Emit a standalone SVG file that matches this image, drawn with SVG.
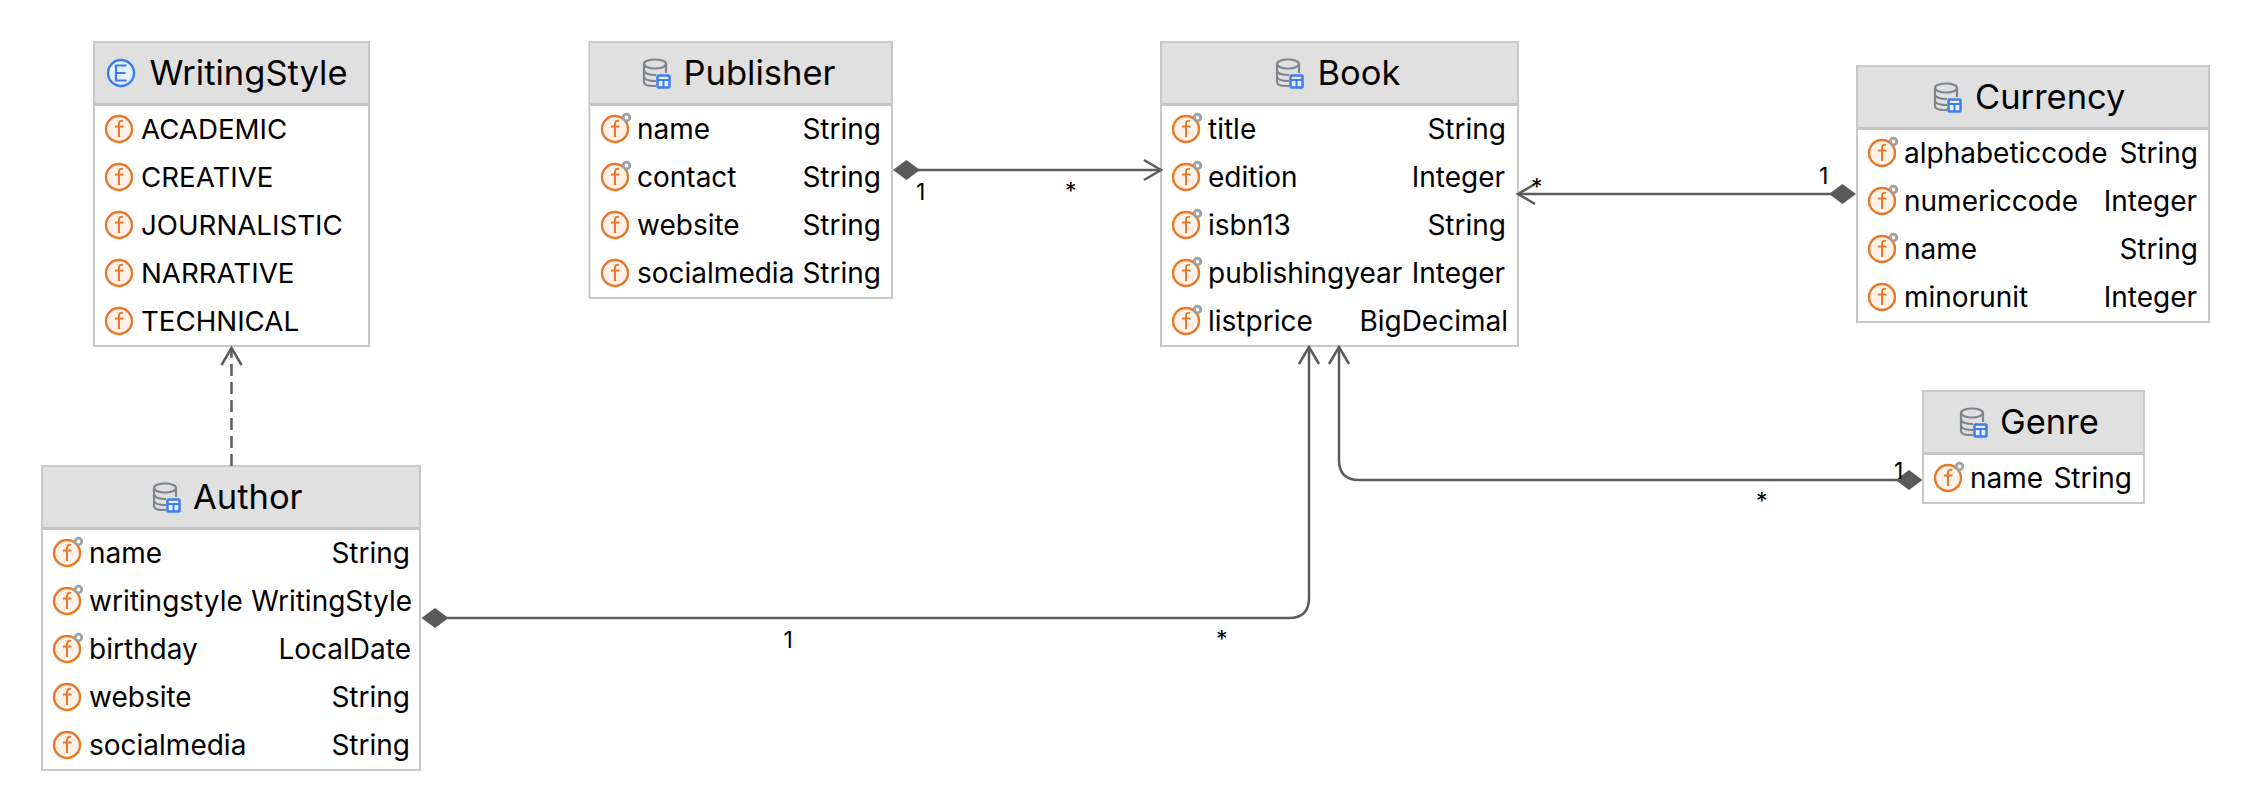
<svg xmlns="http://www.w3.org/2000/svg" xmlns:xlink="http://www.w3.org/1999/xlink" width="2252" height="812" viewBox="0 0 2252 812">
<style>
text{font-family:Inter,"Liberation Sans",sans-serif;fill:#000}
.title{font-size:34.500px}
.row{font-size:28px}
.caps{font-size:27.700px}
.type{font-size:28px;text-anchor:end}
.lbl{font-size:23px}
.box{fill:#fff;stroke:#c8c8c8;stroke-width:2}
.head{fill:#e0e0e0}
.sep{stroke:#c4c4c4;stroke-width:3;fill:none}
.conn{fill:none;stroke:#5c5c5c;stroke-width:2.500}
.dash{stroke-dasharray:12 6}
</style>
<defs>
<marker id="open" markerUnits="userSpaceOnUse" markerWidth="24" markerHeight="26" refX="20" refY="12" orient="auto"><path d="M3 2 L20 12 L3 22" fill="none" stroke="#5c5c5c" stroke-width="2.500"/></marker>
<symbol id="diamond" overflow="visible"><path d="M-13.500 0 L0 -10 L13.500 0 L0 10Z" fill="#5a5a5a"/></symbol>
<symbol id="f" overflow="visible"><circle r="13" fill="#fdf1e8" stroke="#e8782a" stroke-width="2.400"/><path d="M4 -8 Q0 -9 0 -5 V8 M-4 -2.500 H4.500" fill="none" stroke="#e8782a" stroke-width="2"/></symbol>
<symbol id="fk" overflow="visible"><use xlink:href="#f" href="#f"/><circle cx="11.500" cy="-11.500" r="3.300" fill="#fff" stroke="#9aa1a8" stroke-width="2.800"/></symbol>
<symbol id="e" overflow="visible"><circle r="13" fill="#e6effc" stroke="#3f7cf0" stroke-width="2.400"/><path d="M5.500 -7.500 H-5 V7.500 H5.500 M-5 0 H4.500" fill="none" stroke="#3f7cf0" stroke-width="2.200"/></symbol>
<symbol id="db" overflow="visible"><g fill="none" stroke="#7e838c" stroke-width="2.200"><ellipse cx="12" cy="5" rx="11" ry="4.500"/><path d="M1 5 V23 Q1 27 10 27 H13 M1 11.500 Q2 16 13 16 M1 18 Q2 22 13 22 M23 5 V14"/></g><rect x="14.500" y="16.500" width="12" height="12" rx="1" fill="#e6effc" stroke="#3f7cf0" stroke-width="2.500"/><path d="M14.500 21 H26.500 M20.500 21 V28" stroke="#3f7cf0" stroke-width="2" fill="none"/></symbol>
</defs>
<rect width="2252" height="812" fill="#fff"/>

<g id="WritingStyle">
<rect class="box" x="94" y="42" width="275" height="304"/><rect class="head" x="95" y="43" width="273" height="60"/><path class="sep" d="M95 104.500H368"/>
<use href="#e" x="121" y="73"/><text class="title" x="149.500" y="85">WritingStyle</text>
<use href="#f" x="119" y="129"/><text class="caps" x="141" y="139">ACADEMIC</text>
<use href="#f" x="119" y="177"/><text class="caps" x="141" y="187">CREATIVE</text>
<use href="#f" x="119" y="225"/><text class="caps" x="141" y="235">JOURNALISTIC</text>
<use href="#f" x="119" y="273"/><text class="caps" x="141" y="283">NARRATIVE</text>
<use href="#f" x="119" y="321"/><text class="caps" x="141" y="331">TECHNICAL</text>
</g>

<g id="Publisher">
<rect class="box" x="589.500" y="42" width="302.500" height="256"/><rect class="head" x="590.500" y="43" width="300.500" height="60"/><path class="sep" d="M590.500 104.500H891"/>
<use href="#db" x="643" y="59"/><text class="title" x="683.500" y="85">Publisher</text>
<use href="#fk" x="615" y="129"/><text class="row" x="637" y="139">name</text><text class="type" x="881" y="139">String</text>
<use href="#fk" x="615" y="177"/><text class="row" x="637" y="187">contact</text><text class="type" x="881" y="187">String</text>
<use href="#f" x="615" y="225"/><text class="row" x="637" y="235">website</text><text class="type" x="881" y="235">String</text>
<use href="#f" x="615" y="273"/><text class="row" x="637" y="283">socialmedia</text><text class="type" x="881" y="283">String</text>
</g>

<g id="Book">
<rect class="box" x="1161" y="42" width="357" height="304"/><rect class="head" x="1162" y="43" width="355" height="60"/><path class="sep" d="M1162 104.500H1517"/>
<use href="#db" x="1276" y="59"/><text class="title" x="1317.500" y="85">Book</text>
<use href="#fk" x="1186" y="129"/><text class="row" x="1208" y="139">title</text><text class="type" x="1506" y="139">String</text>
<use href="#fk" x="1186" y="177"/><text class="row" x="1208" y="187">edition</text><text class="type" x="1505" y="187">Integer</text>
<use href="#fk" x="1186" y="225"/><text class="row" x="1208" y="235">isbn13</text><text class="type" x="1506" y="235">String</text>
<use href="#fk" x="1186" y="273"/><text class="row" x="1208" y="283">publishingyear</text><text class="type" x="1505" y="283">Integer</text>
<use href="#fk" x="1186" y="321"/><text class="row" x="1208" y="331">listprice</text><text class="type" x="1508" y="331">BigDecimal</text>
</g>

<g id="Currency">
<rect class="box" x="1857" y="66" width="352" height="256"/><rect class="head" x="1858" y="67" width="350" height="60"/><path class="sep" d="M1858 128.500H2208"/>
<use href="#db" x="1934" y="83"/><text class="title" x="1975" y="109">Currency</text>
<use href="#fk" x="1882" y="153"/><text class="row" x="1904" y="163">alphabeticcode</text><text class="type" x="2198" y="163">String</text>
<use href="#fk" x="1882" y="201"/><text class="row" x="1904" y="211">numericcode</text><text class="type" x="2197" y="211">Integer</text>
<use href="#fk" x="1882" y="249"/><text class="row" x="1904" y="259">name</text><text class="type" x="2198" y="259">String</text>
<use href="#f" x="1882" y="297"/><text class="row" x="1904" y="307">minorunit</text><text class="type" x="2197" y="307">Integer</text>
</g>

<g id="Genre">
<rect class="box" x="1923" y="391" width="221" height="112"/><rect class="head" x="1924" y="392" width="219" height="60"/><path class="sep" d="M1924 453.500H2143"/>
<use href="#db" x="1960" y="408"/><text class="title" x="2000" y="434">Genre</text>
<use href="#fk" x="1948" y="478"/><text class="row" x="1970" y="488">name</text><text class="type" x="2132" y="488">String</text>
</g>

<g id="Author">
<rect class="box" x="42" y="466" width="378" height="304"/><rect class="head" x="43" y="467" width="376" height="60"/><path class="sep" d="M43 528.500H419"/>
<use href="#db" x="153" y="483"/><text class="title" x="193" y="509">Author</text>
<use href="#fk" x="67" y="553"/><text class="row" x="89" y="563">name</text><text class="type" x="410" y="563">String</text>
<use href="#fk" x="67" y="601"/><text class="row" x="89" y="611">writingstyle</text><text class="type" x="412" y="611">WritingStyle</text>
<use href="#fk" x="67" y="649"/><text class="row" x="89" y="659">birthday</text><text class="type" x="411" y="659">LocalDate</text>
<use href="#f" x="67" y="697"/><text class="row" x="89" y="707">website</text><text class="type" x="410" y="707">String</text>
<use href="#f" x="67" y="745"/><text class="row" x="89" y="755">socialmedia</text><text class="type" x="410" y="755">String</text>
</g>

<g id="connectors">
<path class="conn dash" d="M231.500 466V348" marker-end="url(#open)"/>
<path class="conn" d="M905 170H1161" marker-end="url(#open)"/>
<use href="#diamond" x="906.500" y="170"/>
<path class="conn" d="M1840 194H1518" marker-end="url(#open)"/>
<use href="#diamond" x="1842.500" y="194"/>
<path class="conn" d="M1900 480H1359Q1339 480 1339 460V347" marker-end="url(#open)"/>
<use href="#diamond" x="1909" y="480"/>
<path class="conn" d="M440 618H1289Q1309 618 1309 598V347" marker-end="url(#open)"/>
<use href="#diamond" x="435" y="618"/>
<text class="lbl" x="916" y="200">1</text><text class="lbl" x="1065" y="198.500">*</text>
<text class="lbl" x="1531" y="195">*</text><text class="lbl" x="1819" y="184">1</text>
<text class="lbl" x="1894" y="479">1</text><text class="lbl" x="1756" y="509">*</text>
<text class="lbl" x="783.500" y="648">1</text><text class="lbl" x="1216" y="646.500">*</text>
</g>
</svg>
